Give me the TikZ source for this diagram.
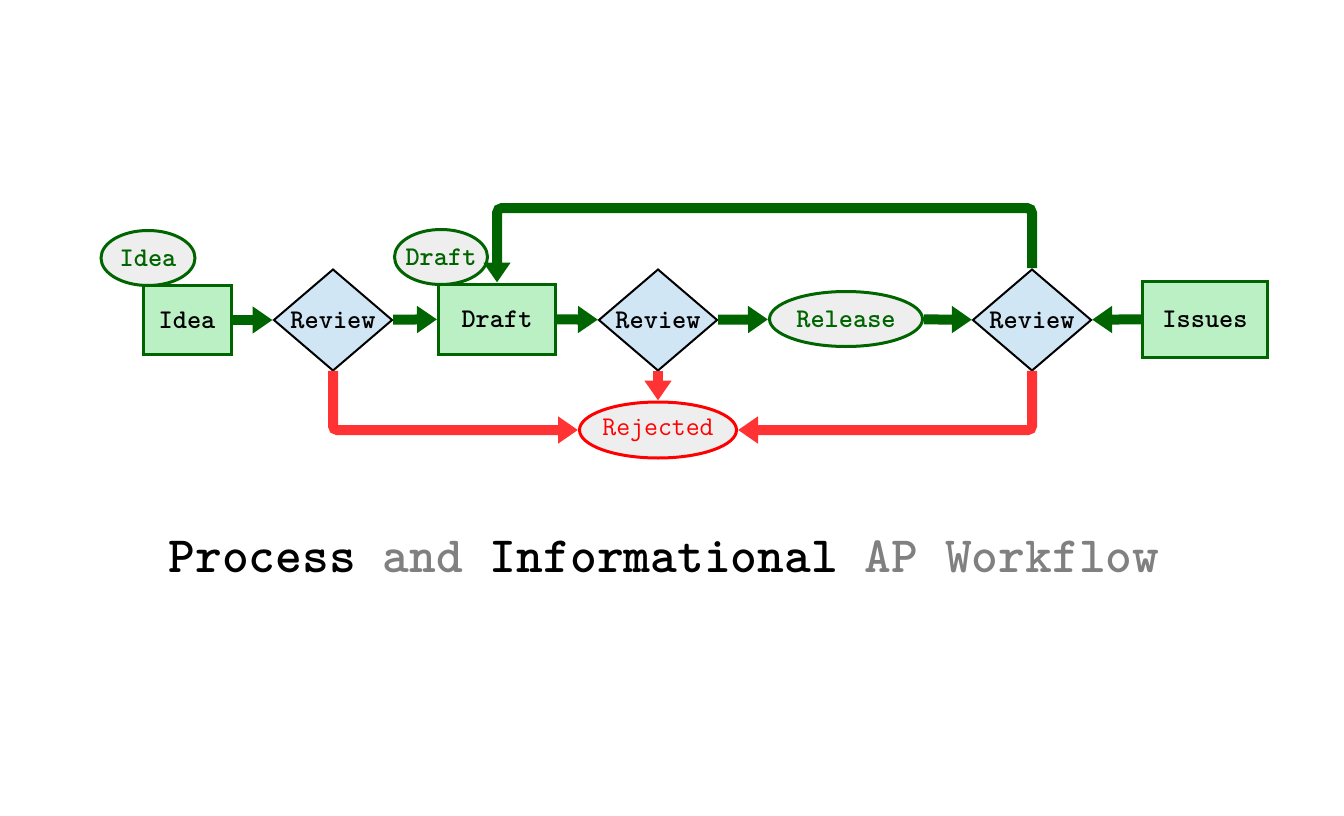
\documentclass[tikz,border=0pt]{standalone}
\usepackage{fontspec}
\usetikzlibrary{arrows.meta,shapes.geometric}
\definecolor{dg}{HTML}{006400}
\definecolor{boxfill}{HTML}{BBF0C5}
\definecolor{diafill}{HTML}{D0E6F4}
\definecolor{ellfill}{HTML}{EEEEEE}
\definecolor{redline}{HTML}{FF3333}
\definecolor{redb}{HTML}{FF0000}
\definecolor{titlegray}{HTML}{808080}
\tikzset{
  lbl/.style={font=\ttfamily\bfseries\fontsize{27}{30}\selectfont},
  boxn/.style={lbl,draw=dg,line width=3pt,fill=boxfill,rectangle,inner sep=0pt},
  dia/.style={lbl,draw=black,line width=2pt,fill=diafill,diamond,inner sep=0pt,minimum width=119pt,minimum height=99pt},
  ell/.style={lbl,draw=dg,line width=3pt,fill=ellfill,ellipse,inner xsep=-5pt,inner ysep=0pt,text=dg},
  garr/.style={draw=dg,line width=10pt,-{Triangle[length=20pt,width=26pt]}},
  rarr/.style={draw=redline,line width=10pt,-{Triangle[length=20pt,width=26pt]},rounded corners=4pt},
}
\begin{document}
\begin{tikzpicture}[x=1pt,y=-1pt]
\useasboundingbox (0,0) rectangle (1344,816);
% nodes
\node[boxn,minimum width=88pt,minimum height=69pt] (idea) at (187,320) {Idea};
\node[ell,minimum width=94pt,minimum height=55pt] (ideae) at (148,258) {Idea};
\node[dia] (r1) at (333,320) {Review};
\node[boxn,minimum width=117pt,minimum height=70pt] (draft) at (497,319) {Draft};
\node[ell,minimum width=93pt,minimum height=55pt] (drafte) at (441,257) {Draft};
\node[dia] (r2) at (658,320) {Review};
\node[ell,minimum width=153pt,minimum height=55pt] (rel) at (846,319) {Release};
\node[dia] (r3) at (1032,320) {Review};
\node[boxn,minimum width=125pt,minimum height=76pt] (iss) at (1205,319) {Issues};
\node[ell,draw=redb,text=redb,minimum width=157pt,minimum height=56pt,font=\ttfamily\fontsize{27}{30}\selectfont] (rej) at (658,430) {Rejected};
\coordinate (lt) at (497,208);
\coordinate (rt) at (1032,208);
% green arrows
\draw[garr] (idea) -- (r1);
\draw[garr] (r1) -- (draft);
\draw[garr] (draft) -- (r2);
\draw[garr] (r2) -- (rel);
\draw[garr] (rel) -- (r3);
\draw[garr] (iss) -- (r3);
\draw[garr,rounded corners=5pt] (r3.north) -- (rt) -- (lt) -- (draft.north);
% red arrows
\draw[rarr] ([yshift=1pt]r1.south) |- (rej.west);
\draw[rarr] ([yshift=1pt]r2.south) -- (rej.north);
\draw[rarr] ([yshift=1pt]r3.south) |- (rej.east);
% title
\node[font=\ttfamily\bfseries\fontsize{51}{56}\selectfont] (title) at (664,557) {Process \textcolor{titlegray}{and} Informational \textcolor{titlegray}{AP Workflow}};
\end{tikzpicture}
\end{document}
